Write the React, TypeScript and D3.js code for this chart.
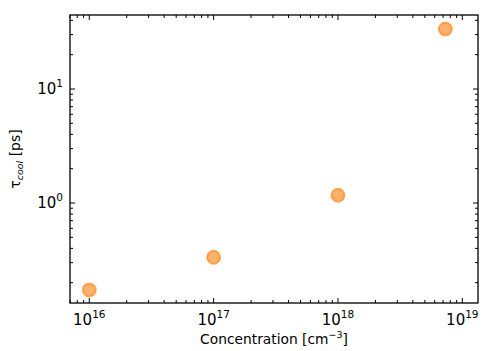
import React from "react";
import { scaleLog } from "d3";

const concentration = [1e16, 1e17, 1e18, 7.3e18];
const tauCool = [0.173, 0.334, 1.17, 33.6];
const xTickExps = [16, 17, 18, 19];
const yTickExps = [0, 1];

const W = 481;
const H = 351;
const margin = { top: 15, right: 3, bottom: 48, left: 70 };

export default function App() {
  const iw = W - margin.left - margin.right;
  const ih = H - margin.top - margin.bottom;

  const x = scaleLog().domain([10 ** 15.845, 10 ** 19.126]).range([0, iw]);
  const y = scaleLog().domain([10 ** -0.877, 10 ** 1.649]).range([ih, 0]);

  const isMajor = (v: number) => Math.abs(Math.log10(v) - Math.round(Math.log10(v))) < 1e-9;
  const xTicks = x.ticks();
  const yTicks = y.ticks();

  const font = "DejaVu Sans, sans-serif";
  const col = "#ff7f0e";

  return (
    <svg width={W} height={H} style={{ position: "absolute", left: 0, top: 0 }}>
      <rect width={W} height={H} fill="#fff" />
      <g transform={`translate(${margin.left},${margin.top})`}>
        {/* x ticks, bottom and top, pointing in */}
        {xTicks.map((t, i) => {
          const len = isMajor(t) ? 5 : 3;
          const px = x(t);
          return (
            <g key={"x" + i} stroke="#000" strokeWidth={1}>
              <line x1={px} x2={px} y1={ih} y2={ih - len} />
              <line x1={px} x2={px} y1={0} y2={len} />
            </g>
          );
        })}
        {yTicks.map((t, i) => {
          const len = isMajor(t) ? 5 : 3;
          const py = y(t);
          return (
            <g key={"y" + i} stroke="#000" strokeWidth={1}>
              <line x1={0} x2={len} y1={py} y2={py} />
              <line x1={iw} x2={iw - len} y1={py} y2={py} />
            </g>
          );
        })}
        <rect x={0} y={0} width={iw} height={ih} fill="none" stroke="#000" strokeWidth={1.3} />

        {xTickExps.map((e) => (
          <text key={"xl" + e} x={x(10 ** e)} y={ih + 22} textAnchor="middle" fontFamily={font} fontSize={15} fill="#000">
            10<tspan dy={-7} fontSize={10.5}>{e}</tspan>
          </text>
        ))}
        {yTickExps.map((e) => (
          <text key={"yl" + e} x={-7} y={y(10 ** e) + 5} textAnchor="end" fontFamily={font} fontSize={15} fill="#000">
            10<tspan dy={-7} fontSize={10.5}>{e}</tspan>
          </text>
        ))}

        {concentration.map((c, i) => (
          <circle
            key={"p" + i}
            cx={x(c)}
            cy={y(tauCool[i])}
            r={6.5}
            fill={col}
            fillOpacity={0.6}
            stroke={col}
            strokeOpacity={0.6}
            strokeWidth={2}
          />
        ))}

        <text x={iw / 2} y={ih + 41} textAnchor="middle" fontFamily={font} fontSize={13.8} fill="#000">
          Concentration [cm<tspan dy={-6} fontSize={9.5}>−3</tspan><tspan dy={6}>]</tspan>
        </text>
        <text
          transform={`translate(${-50},${ih / 2}) rotate(-90)`}
          textAnchor="middle"
          fontFamily={font}
          fontSize={14}
          fill="#000"
        >
          τ<tspan dy={3} fontSize={9.5} fontStyle="italic">cool</tspan>
          <tspan dy={-3}> [ps]</tspan>
        </text>
      </g>
    </svg>
  );
}
